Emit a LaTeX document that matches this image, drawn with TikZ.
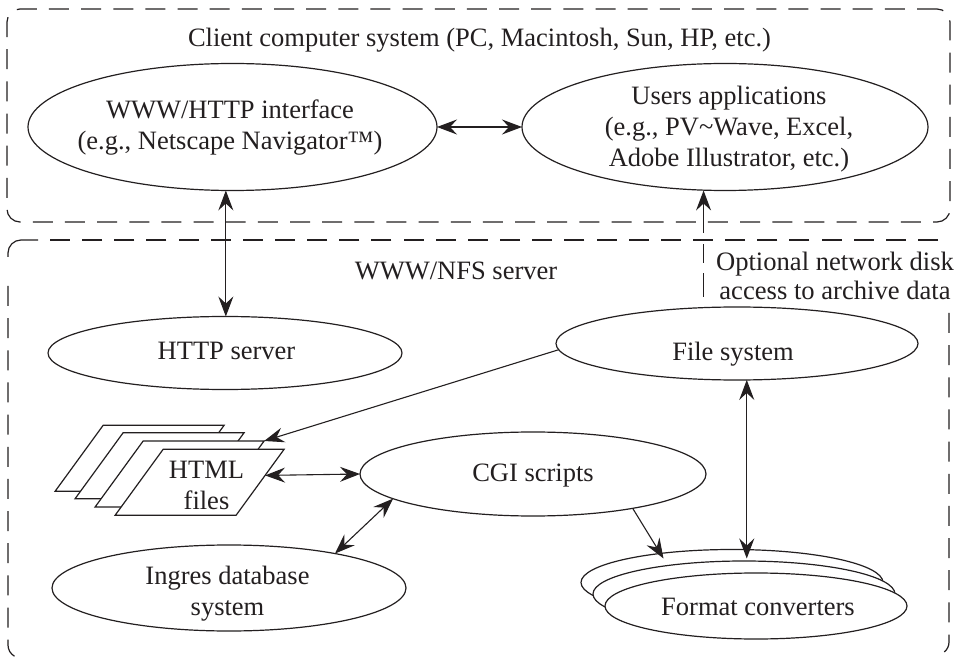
\documentclass[tikz,border=0pt]{standalone}
\usepackage{fontspec}
\setmainfont{Liberation Serif}
\usetikzlibrary{arrows.meta,shapes.geometric}
\definecolor{ink}{HTML}{231F20}
\tikzset{
  every node/.style={text=ink,font=\fontsize{26.5}{31}\selectfont,align=center,inner sep=0pt,outer sep=0pt},
  oval/.style={ellipse,draw=ink,fill=white,line width=1.2pt},
  page/.style={trapezium,draw=ink,fill=white,line width=1.2pt,inner sep=2pt,trapezium stretches=true,
    trapezium left angle=56.6,trapezium right angle=123.4,minimum width=169pt,minimum height=66pt},
  boundary/.style={draw=ink,line width=1.2pt,dash pattern=on 20pt off 12.15pt},
  bsolid/.style={draw=ink,line width=1.2pt},
  link/.style={draw=ink,line width=1.1pt},
  both/.style={link,{Stealth[length=20pt,width=15pt,inset=7pt]}-{Stealth[length=20pt,width=15pt,inset=7pt]}},
  one/.style={link,-{Stealth[length=20pt,width=15pt,inset=7pt]}}
}
\begin{document}
\begin{tikzpicture}[x=1pt,y=-1pt]
\useasboundingbox[fill=white] (0,0) rectangle (956,660);
% boundaries
\node[boundary,rounded corners=13pt,minimum width=943pt,minimum height=213pt] (client) at (478.5,115.5) {};
\path[boundary] (938,240) -- (38,240);
\path[bsolid] (38,240) -- (21,240) arc[start angle=270,end angle=180,radius=13] -- (8,257);
\path[boundary] (8,286) -- (8,645) arc[start angle=180,end angle=120,radius=13];
\path[boundary] (949,313) -- (949,642) arc[start angle=0,end angle=50,radius=13];
% titles
\node (clienttitle) at (479.5,40.5) {Client computer system (PC, Macintosh, Sun, HP, etc.)};
\node (servertitle) at (456,270.5) {WWW/NFS server};
\node[font=\fontsize{26.6}{28.5}\selectfont] (optional) at (835,276) {Optional network disk\\access to archive data};
% ellipses
\node[oval,minimum width=409pt,minimum height=127pt] (www) at (232.5,127) {};
\node[oval,minimum width=406pt,minimum height=127pt] (users) at (725,127) {};
\node[oval,minimum width=354pt,minimum height=73pt] (http) at (225,353) {};
\node[oval,minimum width=362pt,minimum height=73pt] (file) at (737,343.5) {};
\node[oval,minimum width=346pt,minimum height=84pt] (cgi) at (533,474) {};
\node[oval,minimum width=354pt,minimum height=86pt] (ingres) at (229,588) {};
% format converters
\node[oval,minimum width=302pt,minimum height=66pt] (fc1) at (732,582.5) {};
\node[oval,minimum width=302pt,minimum height=66pt] (fc2) at (744,594) {};
\node[oval,minimum width=302pt,minimum height=66pt] (fc3) at (756,606) {};
% html pages
\node[page] (pg1) at (139.6,458.3) {};
\node[page] (pg2) at (159.6,465.7) {};
\node[page] (pg3) at (179.6,474) {};
\node[page] (pg4) at (199.6,482.3) {};
% ellipse and page texts
\node (wwwtext) at (230,127.5) {WWW/HTTP interface\\(e.g., Netscape Navigator™)};
\node (userstext) at (729,129) {Users applications\\(e.g., PV\textasciitilde Wave, Excel,\\Adobe Illustrator, etc.)};
\node (httptext) at (226.5,351) {HTTP server};
\node (filetext) at (733,354) {File system};
\node (cgitext) at (533,475.5) {CGI scripts};
\node (ingrestext) at (227.5,594) {Ingres database\\system};
\node (fctext) at (758,606.5) {Format converters};
\node (htmltext) at (206.5,485) {HTML\\files};
% connectors
\coordinate (fctipa) at (663.5,558.5);
\coordinate (fctipb) at (747,558.5);
\draw[both] (www) -- (users);
\draw[both] (www.264) -- (www.264 |- http.north);
\draw[one,dash pattern=on 1pt off 10pt on 24pt off 10pt on 19pt off 11pt on 60pt] (file.133) -- (file.133 |- users.south);
\draw[one] (file.182.8) -- (pg3.top right corner);
\draw[both] (pg4.6.6) -- (cgi.west);
\draw[both] (ingres.18) -- (cgi.190);
\draw[one] (cgi.341) -- (fctipa);
\draw[both] (file.285.5) -- (file.285.5 |- fctipb);
\end{tikzpicture}
\end{document}
